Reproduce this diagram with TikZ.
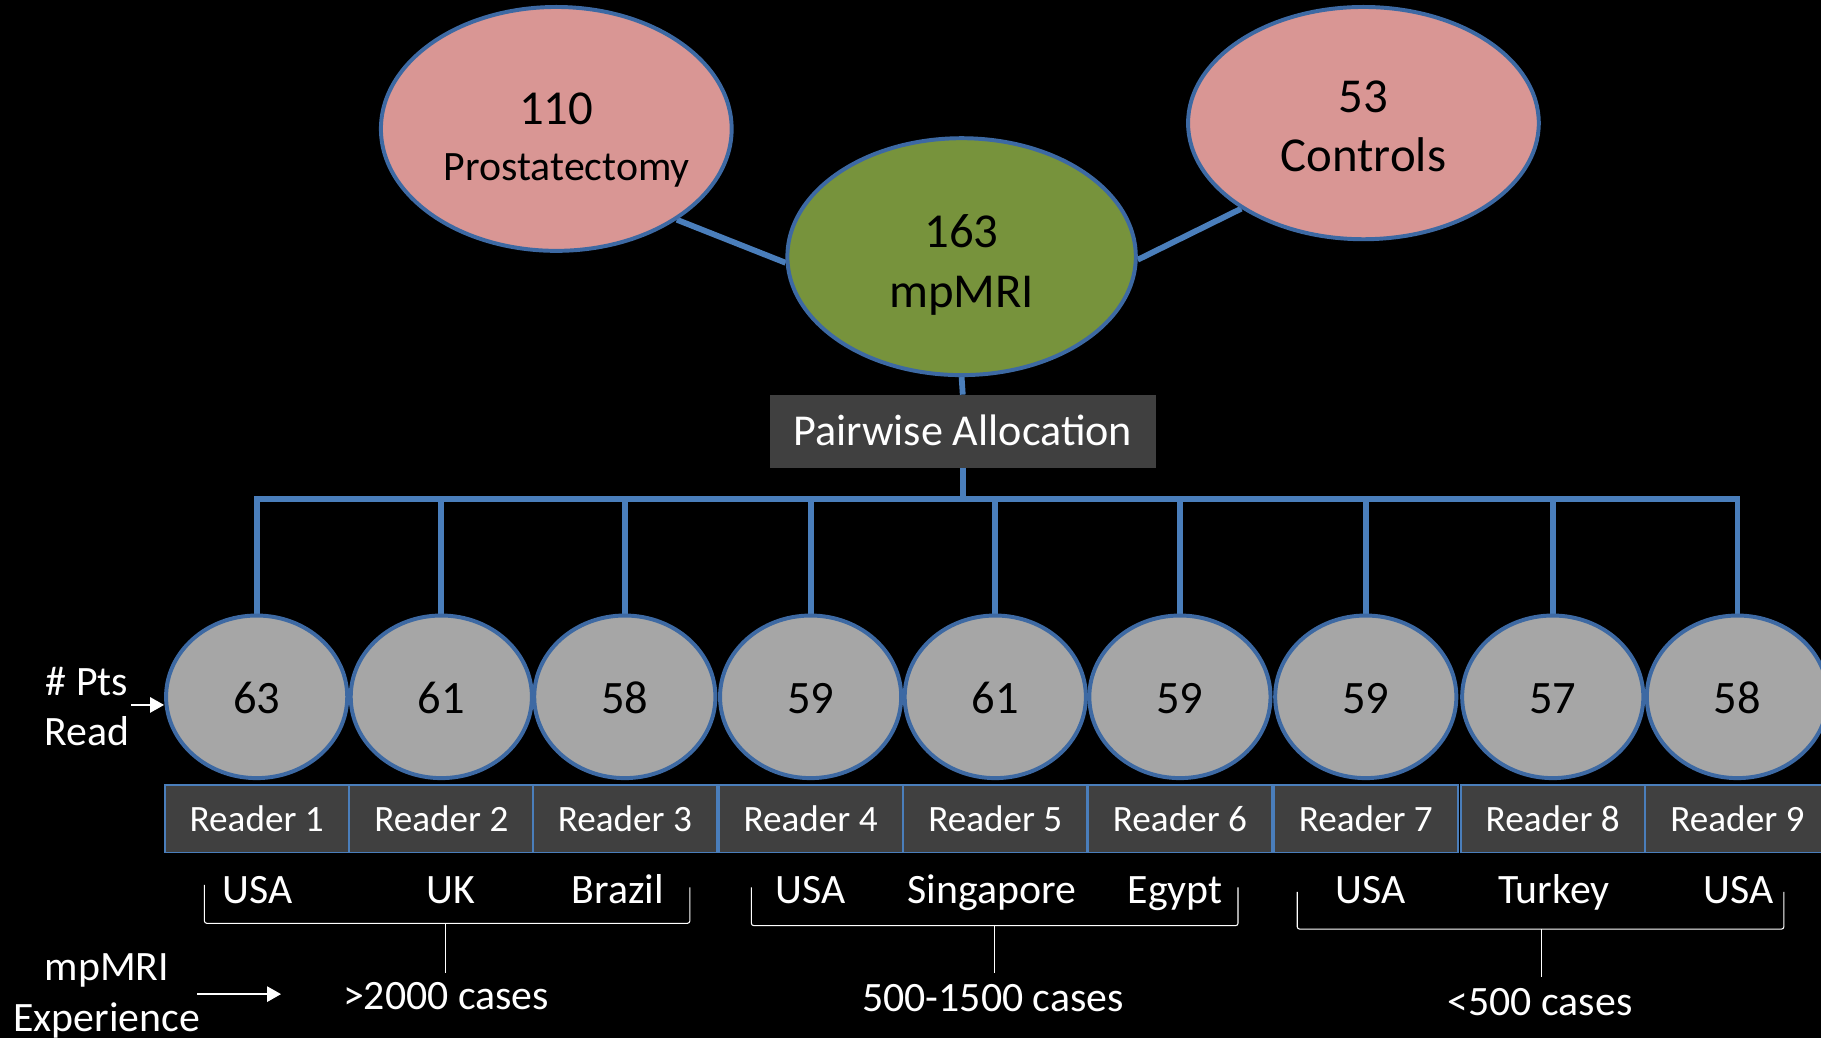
\documentclass[tikz,border=0pt]{standalone}
\usepackage{fontspec}
\setmainfont{Carlito}
\usetikzlibrary{shapes.geometric,arrows.meta}
\definecolor{pinkf}{HTML}{D99694}
\definecolor{greenf}{HTML}{77933C}
\definecolor{grayf}{HTML}{A6A6A6}
\definecolor{boxf}{HTML}{404040}
\definecolor{edgeb}{HTML}{3D69A3}
\definecolor{lineb}{HTML}{4A7EBB}
\pgfdeclarelayer{bg}\pgfdeclarelayer{lines}\pgfsetlayers{bg,lines,main}
\newcommand\fsz[1]{\fontsize{#1}{#1}\selectfont}
\begin{document}
\begin{tikzpicture}[x=1pt,y=-1pt,
  bigell/.style={ellipse, draw=edgeb, line width=3.4pt, inner sep=0pt},
  readerell/.style={ellipse, draw=edgeb, line width=3.4pt, fill=grayf, minimum width=156, minimum height=140, inner sep=0pt},
  readerbox/.style={rectangle, draw=lineb, line width=1.6pt, fill=boxf, minimum width=158.5, minimum height=58, inner sep=0pt, text=white, font=\fsz{32}},
  txt/.style={inner sep=0pt, anchor=base},
  wtxt/.style={txt, text=white, font=\fsz{36}},
  conn/.style={draw=lineb, line width=5pt},
  brack/.style={draw=white, line width=0.9pt, rounded corners=2pt},
  warrow/.style={draw=white, line width=2pt, -{Triangle[length=12pt,width=13pt]}}
]
\useasboundingbox (0,0) rectangle (1568,894);
\begin{pgfonlayer}{bg}
\fill[black] (0,0) rectangle (1568,894);
\end{pgfonlayer}

% top ellipses
\node[bigell, fill=pinkf, minimum width=302, minimum height=210] (P) at (479,111) {};
\node[bigell, fill=pinkf, minimum width=302, minimum height=200] (C) at (1174,106) {};
\node[bigell, fill=greenf, minimum width=300, minimum height=204] (M) at (828,221) {};
\node[txt, font=\fsz{42}] (Pn) at (479,107) {110};
\node[txt, font=\fsz{36}] (Pl) at (488,155) {Prostatectomy};
\node[txt, font=\fsz{42}] (Cn) at (1174,97) {53};
\node[txt, font=\fsz{42}] (Cl) at (1174,148) {Controls};
\node[txt, font=\fsz{42}] (Mn) at (828,213) {163};
\node[txt, font=\fsz{42}] (Ml) at (828,265) {mpMRI};

% pairwise box
\node[rectangle, fill=boxf, minimum width=332, minimum height=63, inner sep=0pt] (PA) at (829,371.5) {};
\node[wtxt, font=\fsz{38}] (PAt) at (829,384) {Pairwise Allocation};

% reader circles and boxes
\foreach \i/\x/\n in {1/221/63,2/380/61,3/538/58,4/698/59,5/857/61,6/1016/59,7/1176/59,8/1337/57,9/1496/58}{
  \node[readerell] (c\i) at (\x,600) {};
  \node[txt, font=\fsz{40}] (n\i) at (\x,614) {\n};
  \node[readerbox] (r\i) at (\x,705) {};
  \node[txt, text=white, font=\fsz{32}] (rt\i) at (\x,716) {Reader \i};
}

% connectors
\coordinate (barL) at (221,430);
\begin{pgfonlayer}{lines}
\draw[conn] (P.-37) -- (M.182);
\draw[conn] (C.215) -- (M.-1);
\draw[conn] (M.south) -- (PA.north);
\draw[conn] (PA.south) -- (PA.south |- barL);
\draw[conn] (c1.north) -- (c1.north |- barL) -- (c9.north |- barL) -- (c9.north);
\foreach \i in {2,...,8}{ \draw[conn] (c\i.north |- barL) -- (c\i.north); }
\end{pgfonlayer}

% left labels
\node[wtxt] (pts) at (75,599) {\# Pts};
\node[wtxt] (read) at (75,642) {Read};
\coordinate (ptsA) at (113,607);
\draw[warrow] (ptsA) -- (ptsA -| c1.west);
\node[wtxt] (exp1) at (92,844) {mpMRI};
\node[wtxt] (exp2) at (92,888) {Experience};
\coordinate (expA) at (170,856);
\coordinate (expB) at (242,856);
\draw[warrow] (expA) -- (expB);

% countries
\foreach \x/\t [count=\k] in {222/USA,388/UK,532/Brazil,698/USA,854/Singapore,1012/Egypt,1180/USA,1338/Turkey,1497/USA}{
  \node[wtxt] (cty\k) at (\x,778) {\t};
}

% experience groups
\node[wtxt] (g1) at (384,869) {>2000 cases};
\node[wtxt] (g2) at (855,871) {500-1500 cases};
\node[wtxt] (g3) at (1326,874) {<500 cases};
\coordinate (b1) at (384,795);
\coordinate (b2) at (856,797);
\coordinate (b3) at (1327,800);
\draw[brack] (176,762) -- (176,795) -- (594,795) -- (594,764);
\draw[brack] (647,764) -- (647,797) -- (1066,797) -- (1066,764);
\draw[brack] (1117,768) -- (1117,800) -- (1536,800) -- (1536,768);
\draw[draw=white, line width=0.9pt] (b1) -- (b1 |- 0,838);
\draw[draw=white, line width=0.9pt] (b2) -- (b2 |- 0,838);
\draw[draw=white, line width=0.9pt] (b3) -- (b3 |- 0,841);
\end{tikzpicture}
\end{document}
